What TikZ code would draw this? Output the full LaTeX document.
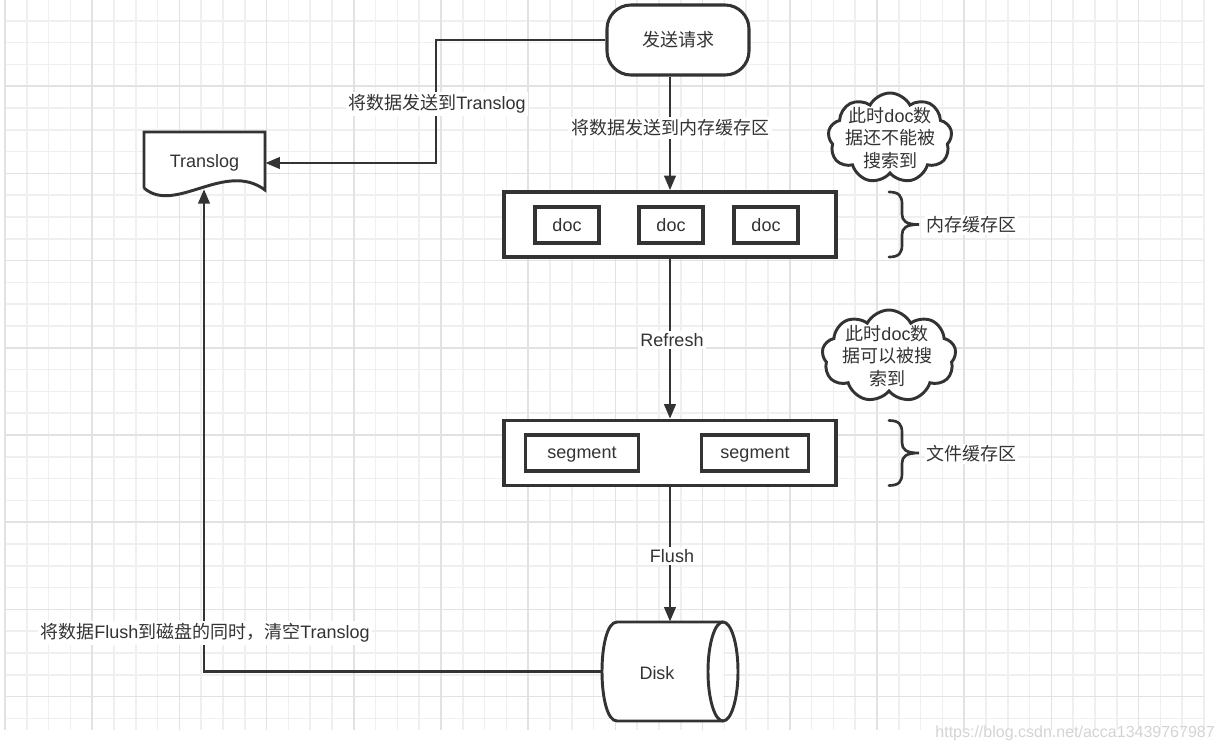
\documentclass[tikz,border=0pt]{standalone}
\usepackage{fontspec}
\setmainfont{Liberation Sans}
\newfontfamily\cjk{Noto Sans CJK SC}
\usetikzlibrary{arrows.meta,shapes.symbols,calc}
\definecolor{ink}{HTML}{333333}
\definecolor{gridminor}{HTML}{EFEFEF}
\definecolor{gridmajor}{HTML}{E2E2E2}
\definecolor{wm}{HTML}{D4D4D4}
\begin{document}
\begin{tikzpicture}[x=0.75pt,y=-0.75pt,
  every node/.style={text=ink, font=\fontsize{13.5}{17}\selectfont},
  line/.style={draw=ink, line width=2.2pt},
  arrowline/.style={line, -{Triangle[length=11pt,width=8.5pt]}},
  box/.style={draw=ink, line width=2.5pt, fill=white, inner sep=0pt, text depth=0pt},
  lbl/.style={fill=white, inner sep=2pt},
  cloudnode/.style={cloud, draw=ink, line width=2.2pt, fill=white, cloud puffs=9, cloud puff arc=125, cloud ignores aspect, inner sep=0pt},
  brace/.style={draw=ink, line width=2pt, line cap=round},
]
\useasboundingbox (0,0) rectangle (1225,749);
\fill[white] (0,0) rectangle (1225,749);
% grid
\foreach \i in {0,...,55} {
  \draw[gridminor, line width=1.1pt] ({5+21.8*\i},0) -- ({5+21.8*\i},730);
}
\foreach \j in {1,...,33} {
  \draw[gridminor, line width=1.1pt] (5,{-1+21.8*\j}) -- (1204,{-1+21.8*\j});
}
\foreach \i in {0,4,...,52} {
  \draw[gridmajor, line width=1.3pt] ({5+21.8*\i},0) -- ({5+21.8*\i},730);
}
\foreach \j in {4,8,...,32} {
  \draw[gridmajor, line width=1.3pt] (5,{-1+21.8*\j}) -- (1204,{-1+21.8*\j});
}

% start node
\node[draw=ink, line width=2.3pt, fill=white, rounded corners=18pt,
      minimum width=106.5pt, minimum height=52.5pt] (req) at (678,40) {\cjk 发送请求};

% Translog document shape
\path[fill=white] (144,188) -- (144,132) -- (265,132) -- (265,190)
   .. controls (225,160) and (175,215) .. (144,188);
\draw[line, line join=miter] (144,188) -- (144,132) -- (265,132) -- (265,190)
   .. controls (225,160) and (175,215) .. (144,188);
\node[minimum width=90.75pt, minimum height=43.5pt, inner sep=0pt] (translog) at (204.5,163) {Translog};
\coordinate (transbot) at (204,189);

% memory buffer
\node[box, minimum width=249pt, minimum height=48.75pt] (memory) at (670,224.5) {};
\node[box, minimum width=48pt, minimum height=27pt] (doc1) at (567,225) {doc};
\node[box, minimum width=48pt, minimum height=27pt] (doc2) at (671,225) {doc};
\node[box, minimum width=48pt, minimum height=27pt] (doc3) at (766,225) {doc};

% file buffer
\node[box, minimum width=249pt, minimum height=48.75pt] (filebuf) at (670,453) {};
\node[box, minimum width=84.75pt, minimum height=27pt] (seg1) at (582,453) {segment};
\node[box, minimum width=80.25pt, minimum height=27pt] (seg2) at (755,453) {segment};

% disk (cylinder)
\node[minimum width=102pt, minimum height=74.25pt, inner sep=0pt] (disk) at (670,671.5) {};
\path[fill=white] (617,622) -- (723,622) -- (723,721) -- (617,721)
   .. controls (597,721) and (597,622) .. (617,622);
\draw[line] (723,622) -- (617,622) .. controls (597,622) and (597,721) .. (617,721) -- (723,721);
\draw[line] (723,671.5) ellipse [x radius=15, y radius=49.5];
\node (disklabel) at (657,673) {Disk};

% connectors
\draw[arrowline] (req.west) -- (436,40) |- (translog.east);
\node[lbl] (lblA) at (437,104) {{\cjk 将数据发送到}Translog};

\draw[arrowline] (req.south -| memory.north) -- (memory.north);
\node[lbl] (lblB) at (670,128) {\cjk 将数据发送到内存缓存区};

\draw[arrowline] (memory.south) -- (filebuf.north);
\node[lbl] (lblC) at (672,340) {Refresh};

\draw[arrowline] (filebuf.south) -- (disk.north);
\node[lbl] (lblD) at (672,556) {Flush};

\draw[arrowline] (disk.west) -| (transbot);
\node[lbl] (lblE) at (205,633) {{\cjk 将数据}Flush{\cjk 到磁盘的同时，清空}Translog};

% braces
\draw[brace] (889,192) .. controls (899,192) and (902,196) .. (902,204) -- (902,214)
   .. controls (902,221) and (906,224.5) .. (919,224.5)
   .. controls (906,224.5) and (902,228) .. (902,235) -- (902,245)
   .. controls (902,253) and (899,257) .. (889,257);
\node[anchor=west, fill=white, inner sep=1pt] (memlabel) at (925,225) {\cjk 内存缓存区};

\draw[brace] (889,420.5) .. controls (899,420.5) and (902,424.5) .. (902,432.5) -- (902,442.5)
   .. controls (902,449.5) and (906,453) .. (919,453)
   .. controls (906,453) and (902,456.5) .. (902,463.5) -- (902,473.5)
   .. controls (902,481.5) and (899,485.5) .. (889,485.5);
\node[anchor=west, fill=white, inner sep=1pt] (filelabel) at (925,454) {\cjk 文件缓存区};

% clouds
\node[cloudnode, minimum width=93pt, minimum height=67.5pt] (cloud1) at (890,138) {};
\node[align=center, inner sep=0pt] (cloud1text) at (890,138) {{\cjk 此时}doc{\cjk 数}\\{\cjk 据还不能被}\\{\cjk 搜索到}};
\node[cloudnode, minimum width=100.5pt, minimum height=69pt] (cloud2) at (889,356) {};
\node[align=center, inner sep=0pt] (cloud2text) at (887,356) {{\cjk 此时}doc{\cjk 数}\\{\cjk 据可以被搜}\\{\cjk 索到}};

% watermark
\node[text=wm, font=\fontsize{12}{14}\selectfont, anchor=east, inner sep=0pt] (wmark) at (1215,733) {https://blog.csdn.net/acca13439767987};
\end{tikzpicture}
\end{document}
